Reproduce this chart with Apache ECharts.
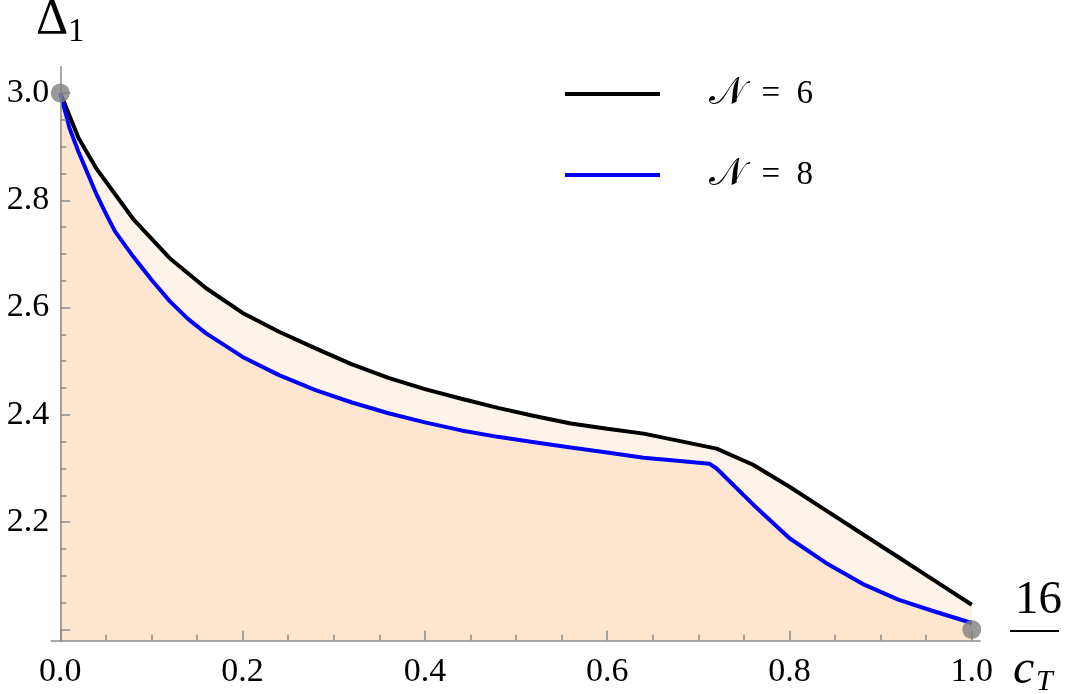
<!DOCTYPE html>
<html>
<head>
<meta charset="utf-8">
<script src="https://cdn.jsdelivr.net/npm/echarts@6/dist/echarts.min.js"></script>
<style>
html,body{margin:0;padding:0;background:#fff;}
#chart{width:1066px;height:694px;}
</style>
</head>
<body>
<div id="chart"></div>
<script>
// ---- data ----
var seriesNames = ['N = 6', 'N = 8'];
var xBlack = [0, 0.02, 0.04, 0.08, 0.12, 0.16, 0.20, 0.24, 0.28, 0.32, 0.36, 0.40, 0.44, 0.48, 0.52, 0.56, 0.60, 0.64, 0.68, 0.72, 0.76, 0.80, 0.84, 0.88, 0.92, 0.96, 1.00];
var yBlack = [3.000, 2.916, 2.858, 2.765, 2.692, 2.636, 2.590, 2.555, 2.524, 2.494, 2.469, 2.448, 2.430, 2.413, 2.398, 2.384, 2.374, 2.365, 2.351, 2.337, 2.307, 2.266, 2.222, 2.178, 2.134, 2.090, 2.046];
var xBlue = [0, 0.01, 0.02, 0.03, 0.04, 0.05, 0.06, 0.08, 0.10, 0.12, 0.14, 0.16, 0.20, 0.24, 0.28, 0.32, 0.36, 0.40, 0.44, 0.48, 0.52, 0.56, 0.60, 0.64, 0.68, 0.712, 0.72, 0.76, 0.80, 0.84, 0.88, 0.92, 0.96, 1.00];
var yBlue = [3.000, 2.935, 2.890, 2.850, 2.810, 2.775, 2.742, 2.695, 2.652, 2.612, 2.579, 2.552, 2.508, 2.474, 2.446, 2.423, 2.403, 2.386, 2.371, 2.359, 2.349, 2.339, 2.330, 2.320, 2.314, 2.309, 2.300, 2.233, 2.170, 2.124, 2.085, 2.055, 2.033, 2.012];
var dotX = [0, 1.0];
var dotY = [3.0, 2.0];
var xMajorTicks = [0, 0.2, 0.4, 0.6, 0.8, 1.0];
var xMinorTicks = [0.05, 0.1, 0.15, 0.25, 0.3, 0.35, 0.45, 0.5, 0.55, 0.65, 0.7, 0.75, 0.85, 0.9, 0.95];
var yMajorTicks = [2.0, 2.2, 2.4, 2.6, 2.8, 3.0];
var yLabelTicks = [2.2, 2.4, 2.6, 2.8, 3.0];
var yMinorTicks = [2.05, 2.1, 2.15, 2.25, 2.3, 2.35, 2.45, 2.5, 2.55, 2.65, 2.7, 2.75, 2.85, 2.9, 2.95, 3.05];

function pairs(xs, ys) { return xs.map(function (x, i) { return [x, ys[i]]; }); }

var serif = "'Liberation Serif', serif";
var axisGray = '#8a8a8a';
var XMIN = -0.01, XMAX = 1.009, YMIN = 1.979, YMAX = 3.049;

var chart = echarts.init(document.getElementById('chart'), null, {renderer: 'canvas'});
var option = {
  backgroundColor: '#ffffff',
  animation: false,
  grid: {left: 51.2, right: 86, top: 66.7, bottom: 53.3, containLabel: false},
  legend: {
    orient: 'vertical',
    left: 560, top: 69,
    icon: 'rect',
    itemWidth: 95, itemHeight: 4,
    itemGap: 41,
    data: seriesNames,
    formatter: function (name) { return '{n|𝒩}{t|\u2002=\u2002' + name.split('= ')[1] + '}'; },
    textStyle: {
      fontFamily: serif, fontSize: 33, color: '#000', lineHeight: 40, padding: [0, 0, 0, 44],
      rich: {
        n: {fontFamily: serif, fontSize: 38, color: '#000', lineHeight: 40},
        t: {fontFamily: serif, fontSize: 33, color: '#000', lineHeight: 40}
      }
    }
  },
  xAxis: [{
    type: 'value', min: XMIN, max: XMAX, position: 'bottom', z: 10,
    axisLine: {show: true, onZero: false, lineStyle: {color: axisGray, width: 1.5}},
    axisTick: {show: true, inside: true, length: 10, customValues: xMajorTicks, lineStyle: {color: axisGray, width: 1.5}},
    axisLabel: {show: true, customValues: xMajorTicks, margin: 14, fontFamily: serif, fontSize: 34, color: '#000',
      formatter: function (v) { return v.toFixed(1); }},
    splitLine: {show: false}
  }, {
    type: 'value', min: XMIN, max: XMAX, position: 'bottom', offset: 0, z: 10,
    axisLine: {show: false, onZero: false},
    axisTick: {show: true, inside: true, length: 6, customValues: xMinorTicks, lineStyle: {color: axisGray, width: 1.5}},
    axisLabel: {show: false},
    splitLine: {show: false}
  }],
  yAxis: [{
    type: 'value', min: YMIN, max: YMAX, position: 'left', z: 10,
    axisLine: {show: true, onZero: true, lineStyle: {color: axisGray, width: 1.5}},
    axisTick: {show: true, inside: true, length: 10, customValues: yMajorTicks, lineStyle: {color: axisGray, width: 1.5}},
    axisLabel: {show: true, customValues: yLabelTicks, margin: 2, padding: [6, 0, 0, 0], fontFamily: serif, fontSize: 34, color: '#000',
      formatter: function (v) { return v.toFixed(1); }},
    splitLine: {show: false}
  }, {
    type: 'value', min: YMIN, max: YMAX, position: 'left', offset: 0, z: 10,
    axisLine: {show: false, onZero: true},
    axisTick: {show: true, inside: true, length: 6, customValues: yMinorTicks, lineStyle: {color: axisGray, width: 1.5}},
    axisLabel: {show: false},
    splitLine: {show: false}
  }],
  graphic: [
    {type: 'text', left: 36, top: -5, style: {text: 'Δ', fontSize: 50, fontFamily: 'Liberation Serif', fill: '#000'}},
    {type: 'text', left: 68, top: 16, style: {text: '1', fontSize: 33, fontFamily: 'Liberation Serif', fill: '#000'}},
    {type: 'text', left: 1015, top: 577, style: {text: '16', fontSize: 47, fontFamily: 'Liberation Serif', fill: '#000'}},
    {type: 'rect', left: 1010, top: 630, shape: {width: 49, height: 2}, style: {fill: '#000'}},
    {type: 'text', left: 1013, top: 646, style: {text: 'c', fontStyle: 'italic', fontSize: 48, fontFamily: 'Liberation Serif', fill: '#000'}},
    {type: 'text', left: 1036, top: 667, style: {text: 'T', fontStyle: 'italic', fontSize: 30, fontFamily: 'Liberation Serif', fill: '#000'}}
  ],
  series: [{
    name: seriesNames[0], type: 'line', xAxisIndex: 0, yAxisIndex: 0,
    data: pairs(xBlack, yBlack), showSymbol: false, symbol: 'none',
    color: '#000000', itemStyle: {color: '#000000'},
    lineStyle: {color: '#000000', width: 4},
    areaStyle: {color: '#FEF3E8', opacity: 1, origin: 'start'},
    z: 2
  }, {
    name: seriesNames[1], type: 'line', xAxisIndex: 0, yAxisIndex: 0,
    data: pairs(xBlue, yBlue), showSymbol: false, symbol: 'none',
    color: '#0000FF', itemStyle: {color: '#0000FF'},
    lineStyle: {color: '#0000FF', width: 4},
    areaStyle: {color: '#FDE6D0', opacity: 1, origin: 'start'},
    z: 3
  }, {
    name: 'points', type: 'scatter', xAxisIndex: 0, yAxisIndex: 0,
    data: pairs(dotX, dotY), symbolSize: 19,
    itemStyle: {color: '#808080'}, z: 20
  }]
};
chart.setOption(option);
</script>
</body>
</html>
